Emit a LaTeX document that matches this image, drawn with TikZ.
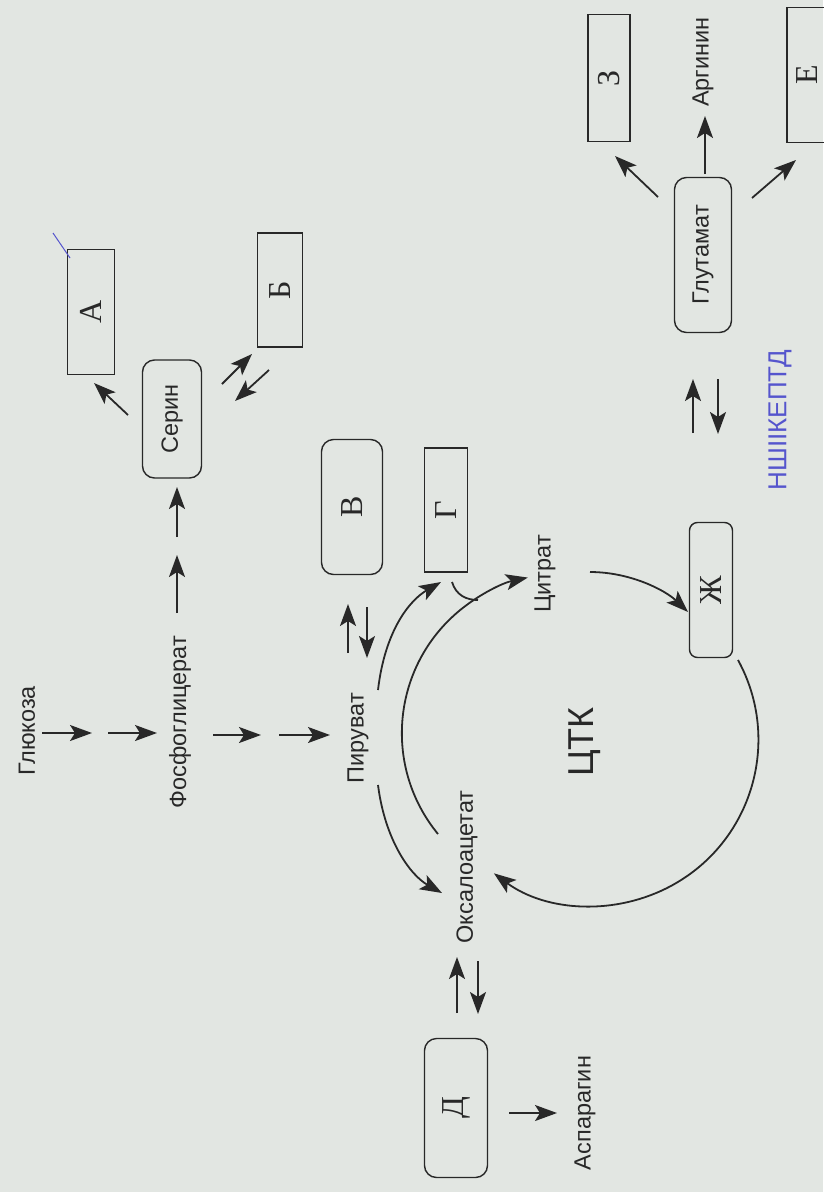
\documentclass[tikz,border=0pt]{standalone}
\usepackage{fontspec}
\setmainfont{Liberation Sans}
\newfontfamily\boxfont{Liberation Serif}
\usetikzlibrary{arrows.meta}
\definecolor{paper}{RGB}{226,230,226}
\definecolor{ink}{RGB}{40,40,40}
\definecolor{pen}{RGB}{85,85,205}
\begin{document}
\begin{tikzpicture}[x=1pt,y=-1pt,
  lbl/.style={rotate=90, inner sep=0pt, text=ink, font=\fontsize{23.5}{24}\selectfont},
  sqbox/.style={rotate=90, draw=ink, line width=1.4pt, inner sep=0pt, text=ink,
                font=\boxfont\fontsize{32}{32}\selectfont},
  rbox/.style={sqbox, rounded corners=12pt},
  arr/.style={draw=ink, line width=1.8pt, -{Stealth[length=22pt,width=16pt,inset=5pt]}},
  thin/.style={draw=ink, line width=1.8pt}
]
\fill[paper] (0,0) rectangle (823,1192);
\useasboundingbox (0,0) rectangle (823,1192);

% text labels
\node[lbl] (gluc) at (27,731) {Глюкоза};
\node[lbl] (fosf) at (180,722) {Фосфоглицерат};
\node[lbl] (piru) at (358,738) {Пируват};
\node[lbl] (oxal) at (467,867) {Оксалоацетат};
\node[lbl] (citr) at (545,574) {Цитрат};
\node[lbl] (aspa) at (585,1113) {Аспарагин};
\node[lbl] (argi) at (703,62) {Аргинин};
\node[lbl, font=\fontsize{36}{36}\selectfont] (ctk) at (585,742) {ЦТК};

% boxes
\node[rbox, minimum width=118pt, minimum height=59pt, font=\fontsize{23.5}{24}\selectfont] (seri) at (172,419) {Серин};
\node[rbox, minimum width=155pt, minimum height=57pt, font=\fontsize{23.5}{24}\selectfont] (glut) at (703,255) {Глутамат};
\node[sqbox, minimum width=125pt, minimum height=47pt] (A) at (91,312) {А};
\node[sqbox, minimum width=114pt, minimum height=45pt] (B) at (280,290) {Б};
\node[rbox, minimum width=135pt, minimum height=61pt] (V) at (352,507) {В};
\node[sqbox, minimum width=124pt, minimum height=43pt] (G) at (446,510) {Г};
\node[rbox, minimum width=139pt, minimum height=63pt] (D) at (456,1108) {Д};
\node[rbox, rounded corners=8pt, minimum width=135pt, minimum height=43pt] (Zh) at (711,590) {Ж};
\node[sqbox, minimum width=127pt, minimum height=42pt] (Z) at (609,78) {З};
\node[sqbox, minimum width=135pt, minimum height=40pt] (E) at (807,75) {Е};

% handwriting
\node[rotate=90, text=pen, font=\fontsize{26}{26}\selectfont] (hw) at (780,420) {НШIIКЕПТД};
\coordinate (pm1) at (53,233); \coordinate (pm2) at (70,258);
\draw[pen, line width=1pt] (pm1) -- (pm2);

% glycolysis
\coordinate (g1s) at (42,733);  \coordinate (g1e) at (92,733);
\coordinate (g2s) at (108,733); \coordinate (g2e) at (157,733);
\coordinate (g3s) at (213,735); \coordinate (g3e) at (261,735);
\coordinate (g4s) at (279,735); \coordinate (g4e) at (330,735);
\draw[arr] (g1s) -- (g1e);
\draw[arr] (g2s) -- (g2e);
\draw[arr] (g3s) -- (g3e);
\draw[arr] (g4s) -- (g4e);

% fosfoglycerat -> serin
\coordinate (pf1s) at (177,613); \coordinate (pf1e) at (177,555);
\coordinate (pf2s) at (177,537); \coordinate (pf2e) at (177,487);
\draw[arr] (pf1s) -- (pf1e);
\draw[arr] (pf2s) -- (pf2e);

% serin -> A, serin <-> B
\coordinate (sa1) at (128,415); \coordinate (sa2) at (94,383);
\draw[arr] (sa1) -- (sa2);
\coordinate (sb1) at (222,384); \coordinate (sb2) at (252,354);
\coordinate (bs1) at (269,370); \coordinate (bs2) at (235,401);
\draw[arr] (sb1) -- (sb2);
\draw[arr] (bs1) -- (bs2);

% piruvat <-> V
\coordinate (pv1) at (348,653); \coordinate (pv2) at (348,604);
\coordinate (vp1) at (367,607); \coordinate (vp2) at (367,658);
\draw[arr] (pv1) -- (pv2);
\draw[arr] (vp1) -- (vp2);

% oxaloacetat <-> D, D -> asparagin
\coordinate (od1) at (457,1013); \coordinate (od2) at (457,957);
\coordinate (do1) at (478,961);  \coordinate (do2) at (478,1014);
\draw[arr] (od1) -- (od2);
\draw[arr] (do1) -- (do2);
\coordinate (da1) at (509,1113); \coordinate (da2) at (557,1113);
\draw[arr] (da1) -- (da2);

% Zh <-> glutamat
\coordinate (zg1) at (693,433); \coordinate (zg2) at (693,379);
\coordinate (gz1) at (718,379); \coordinate (gz2) at (718,434);
\draw[arr] (zg1) -- (zg2);
\draw[arr] (gz1) -- (gz2);

% glutamat -> Z, arginin, E
\coordinate (gZ1) at (658,197); \coordinate (gZ2) at (615,156);
\coordinate (gA1) at (705,174); \coordinate (gA2) at (705,116);
\coordinate (gE1) at (752,198); \coordinate (gE2) at (796,160);
\draw[arr] (gZ1) -- (gZ2);
\draw[arr] (gA1) -- (gA2);
\draw[arr] (gE1) -- (gE2);

% curves
\coordinate (pg1) at (378,690); \coordinate (pg2) at (441,582);
\draw[arr] (pg1) .. controls (385,630) and (410,600) .. (pg2);
\coordinate (po1) at (378,785); \coordinate (po2) at (442,893);
\draw[arr] (po1) .. controls (385,840) and (410,875) .. (po2);
\coordinate (oc1) at (438,834);
\draw[arr] (oc1) arc[start angle=140.6, end angle=258, radius=159];
\coordinate (cz1) at (590,572); \coordinate (cz2) at (688,612);
\draw[arr] (cz1) .. controls (630,572) and (665,590) .. (cz2);
\coordinate (zo1) at (738,660);
\draw[arr] (zo1) arc[start angle=-28.7, end angle=126.4, radius=166];
\coordinate (ga1) at (452,582); \coordinate (ga2) at (478,600);
\draw[thin] (ga1) .. controls (456,595) and (466,600) .. (ga2);
\end{tikzpicture}
\end{document}
